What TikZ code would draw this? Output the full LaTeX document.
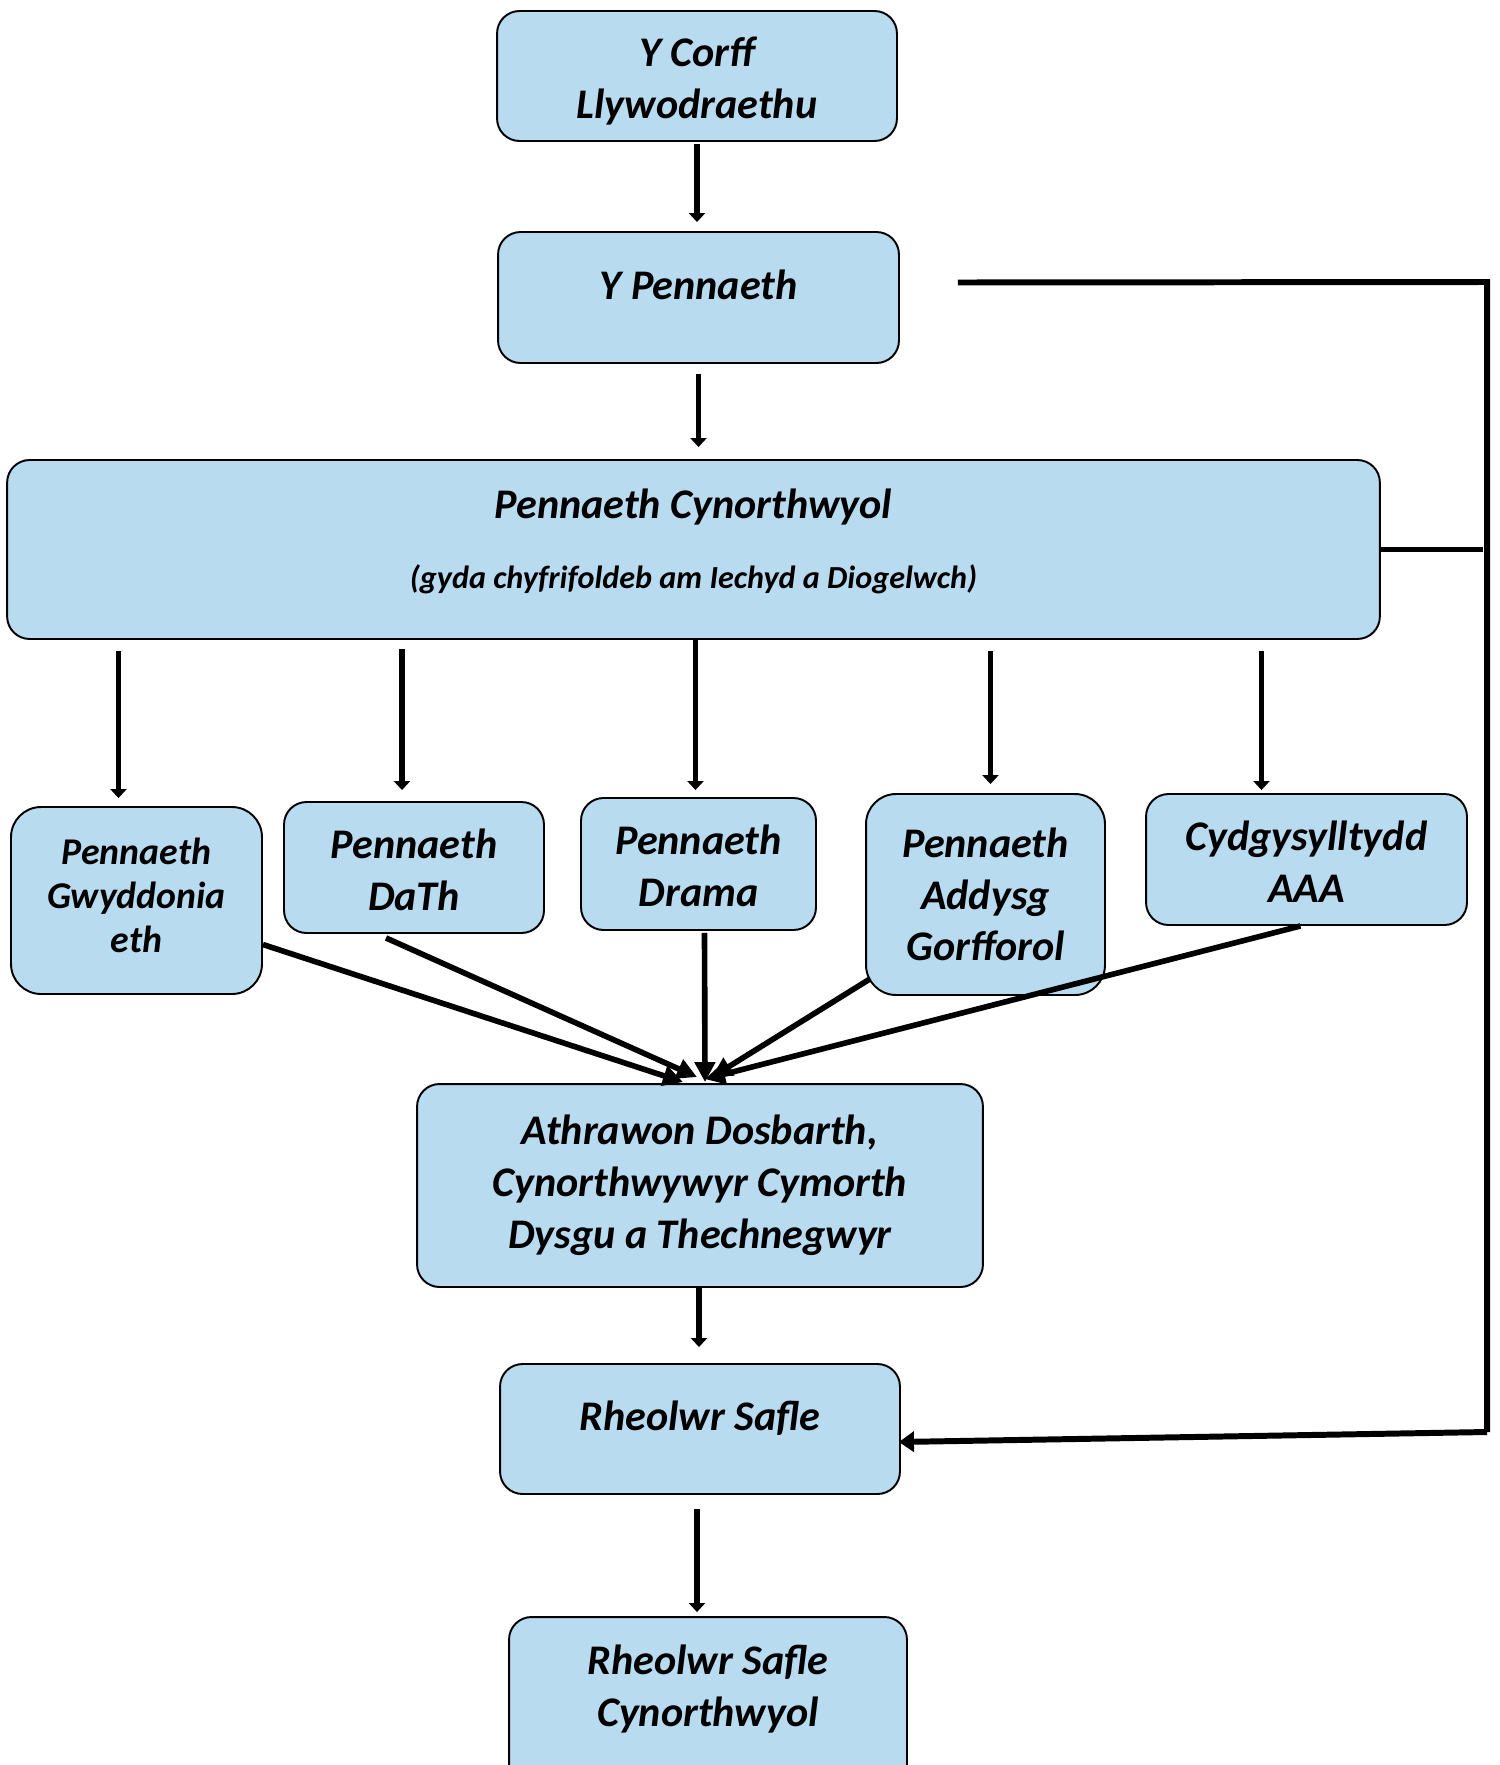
\documentclass[tikz,border=0pt]{standalone}
\usepackage{fontspec}
\setmainfont{Carlito}
\usetikzlibrary{arrows.meta,calc}
\definecolor{boxblue}{RGB}{185,219,240}

\begin{document}
\begin{tikzpicture}[x=0.02cm, y=-0.02cm,
        box/.style={draw, line width=1.1pt, fill=boxblue, rounded corners=0.45cm, align=center, inner sep=0pt,
            font=\bfseries\itshape\fontsize{24}{29.5}\selectfont},
        twoline/.style={text height=1.7cm, text depth=0cm},
        small/.style={font=\bfseries\itshape\fontsize{21.5}{25}\selectfont},
        arr/.style={line width=2.9pt, -{Triangle[length=0.18cm,width=0.32cm]}},
        feed/.style={line width=3.2pt, -{Triangle[length=0.4cm,width=0.4cm]}},
        link/.style={line width=3.4pt}]
    \useasboundingbox (0,0) rectangle (1500,1765);

    \node[box, twoline, minimum width=8cm, minimum height=2.6cm] (corff) at (697,76) {Y Corff\\Llywodraethu};
    \node[box, minimum width=8.02cm, minimum height=2.62cm, text depth=0.52cm] (pennaeth) at (698.5,297.5) {Y Pennaeth};
    \node[box, minimum width=27.46cm, minimum height=3.58cm, text depth=0.44cm] (cynorth) at (693.5,549.5)
        {Pennaeth Cynorthwyol\\[10pt]{\fontsize{18.3}{20}\selectfont(gyda chyfrifoldeb am Iechyd a Diogelwch)}};

    \node[box, small, rounded corners=0.6cm, minimum width=5.02cm, minimum height=3.74cm, text depth=0.22cm] (gwydd) at (136.5,900.5) {Pennaeth\\Gwyddonia\\eth};
    \node[box, twoline, minimum width=5.2cm, minimum height=2.62cm] (dath) at (414,867.5) {Pennaeth\\DaTh};
    \node[box, twoline, minimum width=4.7cm, minimum height=2.64cm] (drama) at (698.5,864) {Pennaeth\\Drama};
    \node[box, rounded corners=0.6cm, minimum width=4.78cm, minimum height=4.02cm] (addysg) at (985.5,894.5) {Pennaeth\\Addysg\\Gorfforol};
    \node[box, twoline, minimum width=6.42cm, minimum height=2.62cm] (aaa) at (1306.5,859.5) {Cydgysylltydd\\AAA};

    \node[box, minimum width=11.32cm, minimum height=4.06cm] (athrawon) at (700,1185.5)
        {Athrawon Dosbarth,\\Cynorthwywyr Cymorth\\Dysgu a Thechnegwyr};
    \node[box, minimum width=8cm, minimum height=2.6cm, text depth=0.52cm] (rheolwr) at (700,1429) {Rheolwr Safle};
    \node[box, minimum width=7.96cm, minimum height=3.6cm, text depth=0.84cm] (rheolwrc) at (708,1707) {Rheolwr Safle\\Cynorthwyol};

    \draw[arr] ($(corff.south)+(0,2)$) -- ($(corff.south |- pennaeth.north)+(0,-9)$);
    \draw[arr] ($(pennaeth.south)+(0,10)$) -- ($(pennaeth.south |- cynorth.north)+(0,-12)$);

    \draw[arr] ($(cynorth.south -| gwydd)+(-18,11)$) -- ($(gwydd.north)+(-18,-8)$);
    \draw[arr] ($(cynorth.south -| dath)+(-12,9)$) -- ($(dath.north)+(-12,-11)$);
    \draw[arr] ($(cynorth.south -| drama)+(-3,0)$) -- ($(drama.north)+(-3,-7)$);
    \draw[arr] ($(cynorth.south -| addysg)+(5,11)$) -- ($(addysg.north)+(5,-9)$);
    \draw[arr] ($(cynorth.south -| aaa)+(-45,11)$) -- ($(aaa.north)+(-45,-3)$);

    \draw[feed] ($(gwydd.east)+(0,44)$) -- ($(athrawon.north)+(-17,-1)$);
    \draw[feed] ($(dath.south)+(-28,4)$) -- ($(athrawon.north)+(-3,-6)$);
    \draw[feed] ($(drama.south)+(6,2)$) -- ($(athrawon.north)+(5,-1)$);
    \draw[feed] ($(addysg.west)+(4,85)$) -- ($(athrawon.north)+(12,-6)$);
    \draw[feed] ($(aaa.south)+(-6,0)$) -- ($(athrawon.north)+(5,-4)$);

    \draw[arr] ($(athrawon.south)+(-1,0)$) -- ($(athrawon.south |- rheolwr.north)+(-1,-16)$);
    \draw[arr] ($(rheolwr.south)+(-3,14)$) -- ($(rheolwr.south |- rheolwrc.north)+(-3,-4)$);

    \coordinate (topcorner) at (1487,282);
    \coordinate (botcorner) at (1487,1432);
    \draw[link] ($(pennaeth.east)+(58,-15)$) -- (topcorner) -- (botcorner);
    \draw[link] (cynorth.east) -- ($(cynorth.east -| topcorner)+(-4,0)$);
    \draw[link, -{Triangle[length=0.3cm,width=0.4cm]}] (botcorner) -- ($(rheolwr.east)+(-2,13)$);
\end{tikzpicture}
\end{document}
